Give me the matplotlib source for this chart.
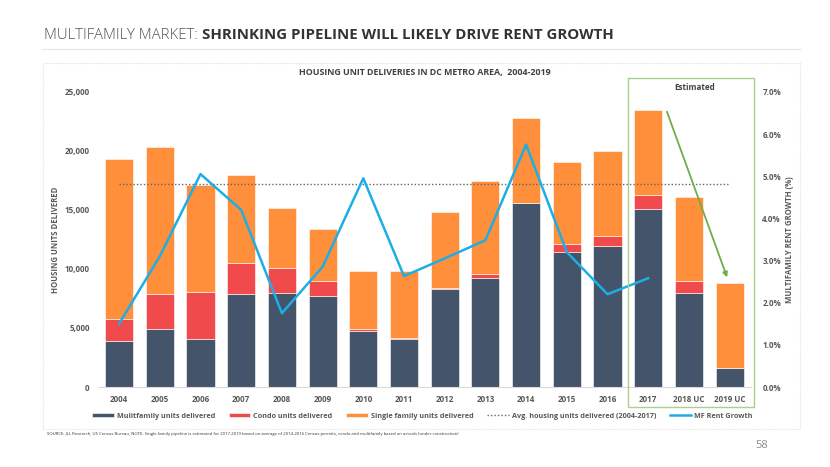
import matplotlib
matplotlib.use("Agg")
import matplotlib.pyplot as plt
from matplotlib.patches import Rectangle
from matplotlib.lines import Line2D
import numpy as np

plt.rcParams['font.family'] = ['Open Sans', 'DejaVu Sans']
plt.rcParams['font.weight'] = 'bold'
plt.rcParams['axes.titleweight'] = 'bold'
plt.rcParams['axes.labelweight'] = 'bold'

years = ["2004", "2005", "2006", "2007", "2008", "2009", "2010", "2011", "2012",
         "2013", "2014", "2015", "2016", "2017", "2018 UC", "2019 UC"]
multifamily = [3900, 4900, 4050, 7900, 8000, 7700, 4750, 4100, 8300,
               9250, 15550, 11400, 11950, 15050, 7950, 1650]
condo = [1900, 2950, 4000, 2600, 2050, 1300, 150, 50, 100,
         300, 0, 700, 800, 1200, 1000, 0]
single_family = [13500, 12450, 9050, 7450, 5100, 4400, 4900, 5650, 6450,
                 7900, 7250, 7000, 7200, 7200, 7150, 7150]
avg_units = 17180
rent_growth = [1.5, 3.1, 5.05, 4.2, 1.75, 2.85, 4.95, 2.63, 3.05,
               3.48, 5.75, 3.2, 2.2, 2.58]

c_mf = "#44546A"
c_condo = "#F04A4C"
c_sf = "#FF8F3A"
c_rent = "#1DAEE6"
c_text = "#404040"
c_lab = "#595959"
fs = 5.8

fig = plt.figure(figsize=(8.3, 4.67), dpi=100)

# header
t1 = fig.text(0.053, 0.924, "MULTIFAMILY MARKET: ", fontsize=10.8, color="#555555",
              fontweight="light", va="center")
r = fig.canvas.get_renderer()
bb = t1.get_window_extent(renderer=r)
fig.text(bb.x1 / 830, 0.924, "SHRINKING PIPELINE WILL LIKELY DRIVE RENT GROWTH",
         fontsize=10.8, color="#333333", fontweight="bold", va="center")
fig.add_artist(Line2D([0.051, 0.964], [0.895, 0.895], color="#e6e6e6", lw=0.8))

# chart panel border
fig.add_artist(Rectangle((0.052, 0.081), 0.912, 0.784, fill=False,
                         edgecolor="#e3e3e3", lw=0.8, ls=(0, (1, 1))))

ax = fig.add_axes([0.118, 0.1713, 0.787, 0.632])
x = np.arange(len(years))
w = 0.69
mf = np.array(multifamily)
cd = np.array(condo)
sf = np.array(single_family)
b1 = ax.bar(x, mf, w, color=c_mf, edgecolor="white", linewidth=0.4)
b2 = ax.bar(x, cd, w, bottom=mf, color=c_condo, edgecolor="white", linewidth=0.4)
b3 = ax.bar(x, sf, w, bottom=mf + cd, color=c_sf, edgecolor="white", linewidth=0.4)
l_avg, = ax.plot([x[0], x[-1]], [avg_units, avg_units], color="#666666", lw=1.0,
                 ls=(0, (1, 1.5)))

ax.set_xlim(-0.52, 15.53)
ax.set_ylim(0, 25000)
ax.set_yticks(range(0, 25001, 5000))
ax.set_yticklabels(["0", "5,000", "10,000", "15,000", "20,000", "25,000"])
ax.set_xticks(x)
ax.set_xticklabels(years)
for s in ["top", "right", "left"]:
    ax.spines[s].set_visible(False)
ax.spines["bottom"].set_color("#d9d9d9")
ax.tick_params(length=0, labelsize=fs, colors=c_lab, pad=6)
ax.set_ylabel("HOUSING UNITS DELIVERED", fontsize=5.6, color=c_lab, labelpad=3)

ax2 = ax.twinx()
l_rent, = ax2.plot(x[:len(rent_growth)], rent_growth, color=c_rent, lw=1.8)
ax2.set_ylim(0, 7)
ax2.set_yticks(np.arange(0, 7.01, 1))
ax2.set_yticklabels([f"{v:.1f}%" for v in np.arange(0, 7.01, 1)])
for s in ["top", "right", "left", "bottom"]:
    ax2.spines[s].set_visible(False)
ax2.tick_params(length=0, labelsize=fs, colors=c_lab, pad=8)
ax2.set_ylabel("MULTIFAMILY RENT GROWTH (%)", fontsize=5.6, color=c_lab, labelpad=3)

ax2.annotate("", xy=(14.94, 2.6), xytext=(13.46, 6.53),
             arrowprops=dict(arrowstyle="-|>", color="#70AD47", lw=1.3,
                             mutation_scale=7, shrinkA=0, shrinkB=0))

ax.set_title("HOUSING UNIT DELIVERIES IN DC METRO AREA,  2004-2019",
             fontsize=6.4, color=c_text, pad=12)

# estimated box
fig.add_artist(Rectangle((0.757, 0.1285), 0.152, 0.7045, fill=False,
                         edgecolor="#A9D18E", lw=1.0))
fig.text(0.837, 0.8116, "Estimated", fontsize=fs, color=c_text,
         ha="center", va="center")

handles = [b1, b2, b3, l_avg, l_rent]
labels = ["Mulitfamily units delivered", "Condo units delivered",
          "Single family units delivered", "Avg. housing units delivered (2004-2017)",
          "MF Rent Growth"]
leg = fig.legend(handles, labels, loc="center", bbox_to_anchor=(0.509, 0.109),
                 ncol=5, frameon=False, fontsize=5.2, handlelength=3.0,
                 handleheight=0.6, columnspacing=1.9, handletextpad=0.4)
for t in leg.get_texts():
    t.set_color(c_lab)

fig.text(0.057, 0.071,
         "SOURCE: JLL Research, US Census Bureau, NOTE: Single-family pipeline is estimated "
         "for 2017-2019 based on average of 2014-2016 Census permits, condo and multifamily "
         "based on actuals (under construction)",
         fontsize=3.1, color="#333333", va="center", fontweight="normal")
fig.text(0.918, 0.045, "58", fontsize=8, color="#8c8c8c", ha="center", va="center",
         fontweight="normal")

fig.savefig("out.png", dpi=100, facecolor="white")
